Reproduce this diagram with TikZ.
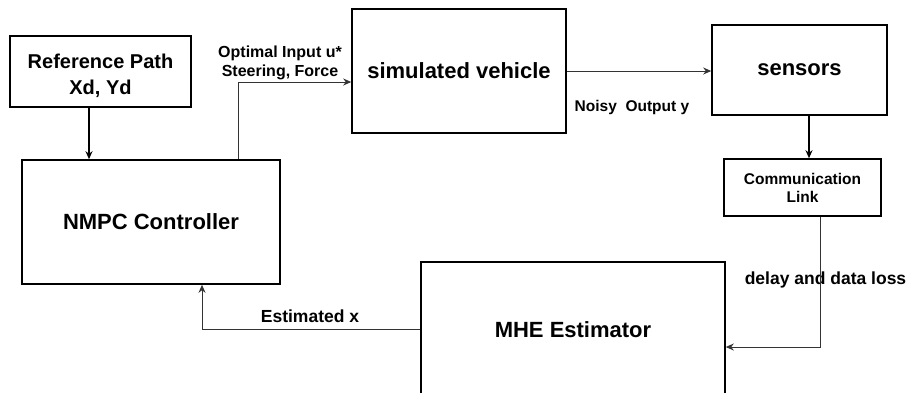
\documentclass[tikz,border=0pt]{standalone}
\usepackage{fontspec}
\setmainfont{Liberation Sans}
\usetikzlibrary{arrows.meta}
\tikzset{
  blk/.style={draw=black, line width=1.6pt, rectangle, inner sep=0pt, align=center, font=\bfseries},
  bigtxt/.style={font=\fontsize{22}{26}\selectfont\bfseries},
  lbl/.style={font=\fontsize{16}{19}\selectfont\bfseries, align=center, inner sep=0pt},
  wire/.style={draw=black!80, line width=0.9pt},
  arr/.style={wire, -{Stealth[length=8pt,width=7pt]}},
  darr/.style={draw=black, line width=1.3pt, -{Stealth[length=8pt,width=7pt]}}
}
\begin{document}
\begin{tikzpicture}[x=1pt,y=-1pt]
\useasboundingbox (0,0) rectangle (909,392);
\begin{scope}
\clip (0,0) rectangle (909,392);

% blocks
\node[blk, minimum width=181pt, minimum height=71pt] (ref) at (100.5,71.5) {};
\node[lbl, font=\fontsize{20}{26}\selectfont\bfseries] (reftxt) at (100.5,75.5) {Reference Path\\Xd, Yd};
\node[blk, bigtxt, minimum width=258pt, minimum height=124pt] (nmpc) at (151,222) {NMPC Controller};
\node[blk, bigtxt, minimum width=214pt, minimum height=124pt] (veh) at (459,71) {simulated vehicle};
\node[blk, bigtxt, minimum width=175pt, minimum height=90pt] (sens) at (799.5,70) {sensors};
\node[blk, minimum width=157pt, minimum height=57pt,
      font=\fontsize{15.5}{18}\selectfont\bfseries] (comm) at (802.5,187.5) {Communication\\Link};
\node[blk, bigtxt, minimum width=304pt, minimum height=136pt] (mhe) at (573,330) {MHE Estimator};

% routing points
\coordinate (refx) at (89,0);
\coordinate (ux) at (238,82);
\coordinate (sx) at (809,0);
\coordinate (dx) at (820,347);
\coordinate (ex) at (202,329);

% labels
\node[lbl] (ulbl) at (280,62.5) {Optimal Input u*\\Steering, Force};
\node[lbl, font=\fontsize{15.5}{18}\selectfont\bfseries] (ylbl) at (632,107) {Noisy\ \ Output y};
\node[lbl, font=\fontsize{17.5}{20}\selectfont\bfseries] (dlbl) at (825.5,280) {delay and data loss};
\node[lbl, font=\fontsize{17.5}{20}\selectfont\bfseries] (xlbl) at (310,316) {Estimated x};

% connectors
\draw[darr] (ref.south -| refx) -- (nmpc.north -| refx);
\draw[arr] (nmpc.north -| ux) |- (veh.west |- ux);
\draw[arr] (veh.east) -- (sens.west |- veh.east);
\draw[darr] (sens.south -| sx) -- (comm.north -| sx);
\draw[arr] (comm.south -| dx) |- (mhe.east |- dx);
\draw[arr] (mhe.west |- ex) -| (nmpc.south -| ex);
\end{scope}
\end{tikzpicture}
\end{document}
